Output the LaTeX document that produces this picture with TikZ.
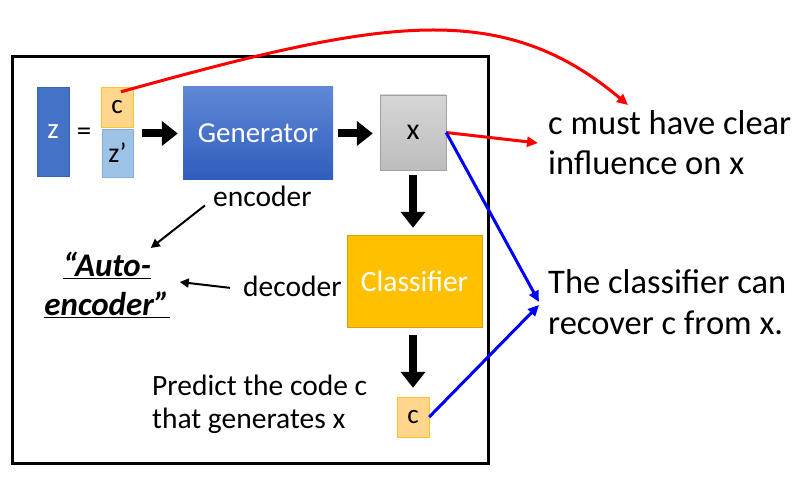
\documentclass[tikz,border=0pt]{standalone}
\usepackage{fontspec}
\setmainfont{Carlito}
\usepackage{xcolor}
\usetikzlibrary{positioning, arrows.meta, calc}

\definecolor{zblue}{HTML}{4472C4}
\definecolor{zline}{HTML}{3A62AE}
\definecolor{codefill}{HTML}{FFD68C}
\definecolor{codeline}{HTML}{FFC22E}
\definecolor{zpfill}{HTML}{9DC3E6}
\definecolor{zpline}{HTML}{85AEDD}
\definecolor{gentop}{HTML}{6088D6}
\definecolor{genbot}{HTML}{2F5DBD}
\definecolor{xtop}{HTML}{D6D6D6}
\definecolor{xbot}{HTML}{BDBDBD}
\definecolor{clsfill}{HTML}{FFC000}
\definecolor{clsline}{HTML}{D4A20C}

\begin{document}
\begin{tikzpicture}[x=1pt, y=-1pt,
		box/.style={inner sep=0pt, anchor=center},
		fat/.style={line width=8pt, -{Triangle[length=16pt, width=24pt]}},
		thinarrow/.style={line width=2pt, -{Triangle[length=9pt, width=9pt]}},
		redline/.style={red, line width=3pt, -{Triangle[length=11pt, width=10pt]}},
		blueline/.style={blue, line width=3pt, -{Triangle[length=11pt, width=10pt]}},
		label/.style={inner sep=0pt, font=\fontsize{29.5}{33}\selectfont}]
		\useasboundingbox (0,0) rectangle (811,481);
		\draw[line width=3pt] (12,57) rectangle (488,463);
		
		% input code
		\node[box, draw=zline, fill=zblue, minimum width=32pt, minimum height=89pt,
			text=white, font=\fontsize{29}{33}\selectfont] (z) at (53,131.5) {z};
		\node[box, font=\fontsize{29}{33}\selectfont] (eq) at (84,134) {=};
		\node[box, draw=codeline, fill=codefill, minimum width=32pt, minimum height=40pt,
			font=\fontsize{27}{31}\selectfont] (c) at (117,107) {c};
		\node[box, draw=zpline, fill=zpfill, minimum width=31pt, minimum height=48pt,
			font=\fontsize{28}{32}\selectfont] (zp) at (117.5,153) {z’};
		
		% generator and classifier
		\node[box, top color=gentop, bottom color=genbot, minimum width=150pt, minimum height=93pt,
			text=white, font=\fontsize{29}{34}\selectfont] (gen) at (258,133.5) {Generator};
		\node[box, draw=xbot!85!black, top color=xtop, bottom color=xbot, minimum width=66pt,
			minimum height=75pt, font=\fontsize{30}{34}\selectfont] (x) at (413,132.5) {x};
		\node[box, draw=clsline, fill=clsfill, minimum width=135pt, minimum height=92pt,
			text=white, font=\fontsize{29.5}{34}\selectfont] (cls) at (414.5,281) {Classifier};
		\node[box, draw=codeline, fill=codefill, minimum width=32pt, minimum height=40pt,
			font=\fontsize{27}{31}\selectfont] (cout) at (413,417) {c};
		
		\draw[fat, shorten <=9pt, shorten >=5pt] (gen.west -| c.east) -- (gen.west);
		\draw[fat, shorten <=5pt, shorten >=7pt] (gen.east) -- (x.west |- gen.east);
		\draw[fat, shorten <=5pt, shorten >=7pt] (x.south) -- (cls.north -| x.south);
		\draw[fat, shorten <=8pt, shorten >=9pt] (cls.south -| cout.north) -- (cout.north);
		
		% auto-encoder labels
		\node[label, anchor=base west] (enc) at (213,207) {encoder};
		\node[label, anchor=base west] (dec) at (243,296) {decoder};
		\node[inner sep=0pt, align=center, font=\fontsize{33}{39}\selectfont\bfseries\itshape]
			(auto) at (107,285) {\underline{“Auto-}\\\underline{encoder”}};
		\node[label, anchor=west, align=left] (pred) at (152,404) {Predict the code c\\that generates x};
		
		\draw[thinarrow] ([shift={(-8pt,2pt)}]enc.south west) -- ([shift={(-19pt,4pt)}]auto.north east);
		\draw[thinarrow] ([shift={(-13pt,-2pt)}]dec.west) -- ([shift={(10pt,3pt)}]auto.east);
		
		% explanations
		\node[inner sep=0pt, anchor=west, align=left, font=\fontsize{34.5}{40}\selectfont]
			(infl) at (548,143) {c must have clear\\influence on x};
		\node[inner sep=0pt, anchor=west, align=left, font=\fontsize{34.5}{41}\selectfont]
			(recv) at (548,302) {The classifier can\\recover c from x.};
		\coordinate (curveend) at (628,105);
		
		\draw[redline] ([shift={(4pt,-5pt)}]c.north) .. controls (380,20) and (500,-3) .. (curveend);
		\draw[redline] (x.east) -- ([xshift=-10pt]infl.west);
		\draw[blueline] (x.east) -- ([xshift=-9pt]recv.west);
		\draw[blueline] (cout.east) -- ([shift={(-9pt,-3pt)}]recv.west);
	\end{tikzpicture}
\end{document}
